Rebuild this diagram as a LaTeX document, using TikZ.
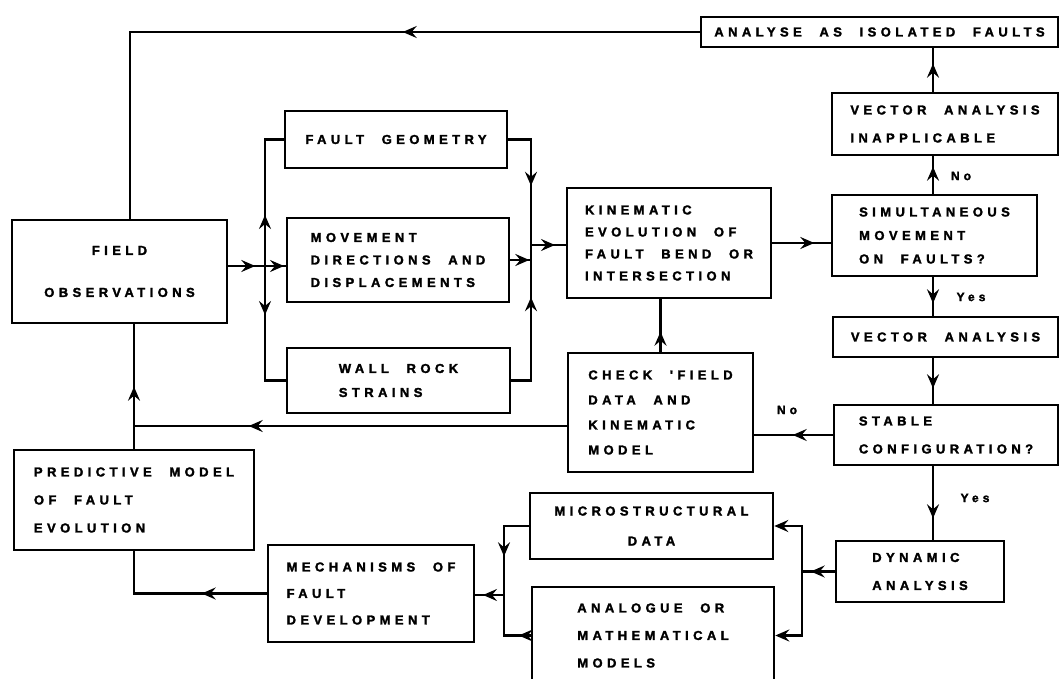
\documentclass[tikz,border=0pt]{standalone}
\usepackage{fontspec}
\setmainfont{Liberation Sans}
\newfontfamily\lettering[LetterSpace=34, WordSpace=2.2, FakeBold=2]{Liberation Sans Bold}
\usetikzlibrary{arrows.meta,decorations.markings}

\tikzset{
    >={Stealth[length=14pt,width=12pt,inset=5pt]},
    box/.style={draw, line width=2.6pt, align=left, inner sep=0pt,
        font=\lettering\fontsize{13}{24}\selectfont},
    lead/.style={font=\lettering\fontsize{13}{#1}\selectfont},
    conn/.style={line width=2.6pt},
    midarrow/.style={postaction={decorate},
        decoration={markings, mark=at position #1 with {\arrow{>}}}},
    answer/.style={font=\lettering\fontsize{12}{14}\selectfont, inner sep=0pt},
}

\begin{document}
\begin{tikzpicture}[x=1pt, y=-1pt]
    \useasboundingbox (0,0) rectangle (1060,679);

    \node[box, minimum width=357pt, minimum height=30pt] (anal) at (879.5,32) {ANALYSE AS ISOLATED FAULTS};
    \node[box, lead=28pt, minimum width=226pt, minimum height=62pt] (vai) at (945,124) {VECTOR ANALYSIS\\INAPPLICABLE};
    \node[box, lead=23.5pt, minimum width=205pt, minimum height=81pt] (simu) at (934.5,235.5) {SIMULTANEOUS\\MOVEMENT\\ON FAULTS?};
    \node[box, minimum width=225pt, minimum height=40pt] (vec) at (945.5,337) {VECTOR ANALYSIS};
    \node[box, lead=28pt, minimum width=224pt, minimum height=60pt] (stab) at (946,435) {STABLE\\CONFIGURATION?};
    \node[box, lead=28pt, minimum width=168pt, minimum height=61pt] (dyn) at (920,571.5) {DYNAMIC\\ANALYSIS};

    \node[box, lead=22pt, minimum width=204pt, minimum height=110pt] (kin) at (669,243) {KINEMATIC\\EVOLUTION OF\\FAULT BEND OR\\INTERSECTION};
    \node[box, lead=25pt, minimum width=185pt, minimum height=119pt] (chk) at (660.5,412.5) {CHECK 'FIELD\\DATA AND\\KINEMATIC\\MODEL};

    \node[box, minimum width=222pt, minimum height=57pt] (geo) at (396,139.5) {FAULT GEOMETRY};
    \node[box, lead=22.5pt, minimum width=222pt, minimum height=84pt] (mov) at (398,260) {MOVEMENT\\DIRECTIONS AND\\DISPLACEMENTS};
    \node[box, minimum width=223pt, minimum height=65pt] (wall) at (398.5,380.5) {WALL ROCK\\STRAINS};

    \node[box, align=center, lead=42pt, minimum width=215pt, minimum height=103pt] (fob) at (119.5,271.5) {FIELD\\OBSERVATIONS};
    \node[box, lead=28pt, minimum width=240pt, minimum height=100pt] (pred) at (134,500) {PREDICTIVE MODEL\\OF FAULT\\EVOLUTION};
    \node[box, lead=26.5pt, minimum width=206pt, minimum height=97pt] (mech) at (371,593.5) {MECHANISMS OF\\FAULT\\DEVELOPMENT};
    \node[box, align=center, lead=30pt, minimum width=243pt, minimum height=66pt] (micro) at (651.5,526) {MICROSTRUCTURAL\\DATA};
    \node[box, lead=27.5pt, minimum width=242pt, minimum height=97pt] (analog) at (653,635.5) {ANALOGUE OR\\MATHEMATICAL\\MODELS};

    \node[answer] (no1) at (961,176) {No};
    \node[answer] (yes1) at (971,297) {Yes};
    \node[answer] (no2) at (787,410) {No};
    \node[answer] (yes2) at (975,498) {Yes};

    % junctions
    \coordinate (lj) at (265,266);
    \coordinate (rj) at (531,245);
    \coordinate (lv) at (134,426);
    \coordinate (rx) at (933,0);
    \coordinate (mj) at (504,595);
    \coordinate (dj) at (802,571.5);

    \draw[conn, midarrow=297pt] (anal.west) -| ([xshift=10.5pt]fob.north);
    \draw[conn, midarrow=27pt] (lj -| fob.east) -- (lj);
    \draw[conn, midarrow=51pt] (lj) |- (geo.west);
    \draw[conn, midarrow=49pt] (lj) |- (wall.west);
    \draw[conn, midarrow=19pt] (lj) -- (lj -| mov.west);
    \draw[conn, midarrow=69pt] (geo.east) -| (rj);
    \draw[conn, midarrow=103pt] (wall.east) -| (rj);
    \draw[conn, midarrow=19pt] (mov.east) -- (mov.east -| rj);
    \draw[conn, midarrow=24pt] (rj) -- (rj -| kin.west);
    \draw[conn, midarrow=42pt] (kin.east) -- (kin.east -| simu.west);

    \draw[conn, midarrow=27pt] (rx |- simu.north) -- (rx |- vai.south);
    \draw[conn, midarrow=28pt] (rx |- vai.north) -- (rx |- anal.south);
    \draw[conn, midarrow=26pt] (rx |- simu.south) -- (rx |- vec.north);
    \draw[conn, midarrow=30pt] (rx |- vec.south) -- (rx |- stab.north);
    \draw[conn, midarrow=52pt] (rx |- stab.south) -- (rx |- dyn.north);

    \draw[conn, midarrow=40pt] (stab.west) -- (stab.west -| chk.east);
    \draw[conn, midarrow=20pt] (chk.north) -- (chk.north |- kin.south);
    \draw[conn, midarrow=318pt] (lv -| chk.west) -- (lv);
    \draw[conn, midarrow=62pt] (pred.north) -- (pred.north |- fob.south);
    \draw[conn, midarrow=65pt] (mech.west) -| (pred.south);

    \draw[conn, midarrow=55pt] (micro.west) -| (mj);
    \draw[conn, midarrow=12pt] (analog.west) -| (mj);
    \draw[conn, midarrow=21pt] (mj) -- (mj -| mech.east);
    \draw[conn, midarrow=24pt] (dyn.west) -- (dj);
    \draw[conn, ->] (dj) |- (micro.east);
    \draw[conn, ->] (dj) |- (analog.east);
\end{tikzpicture}
\end{document}
